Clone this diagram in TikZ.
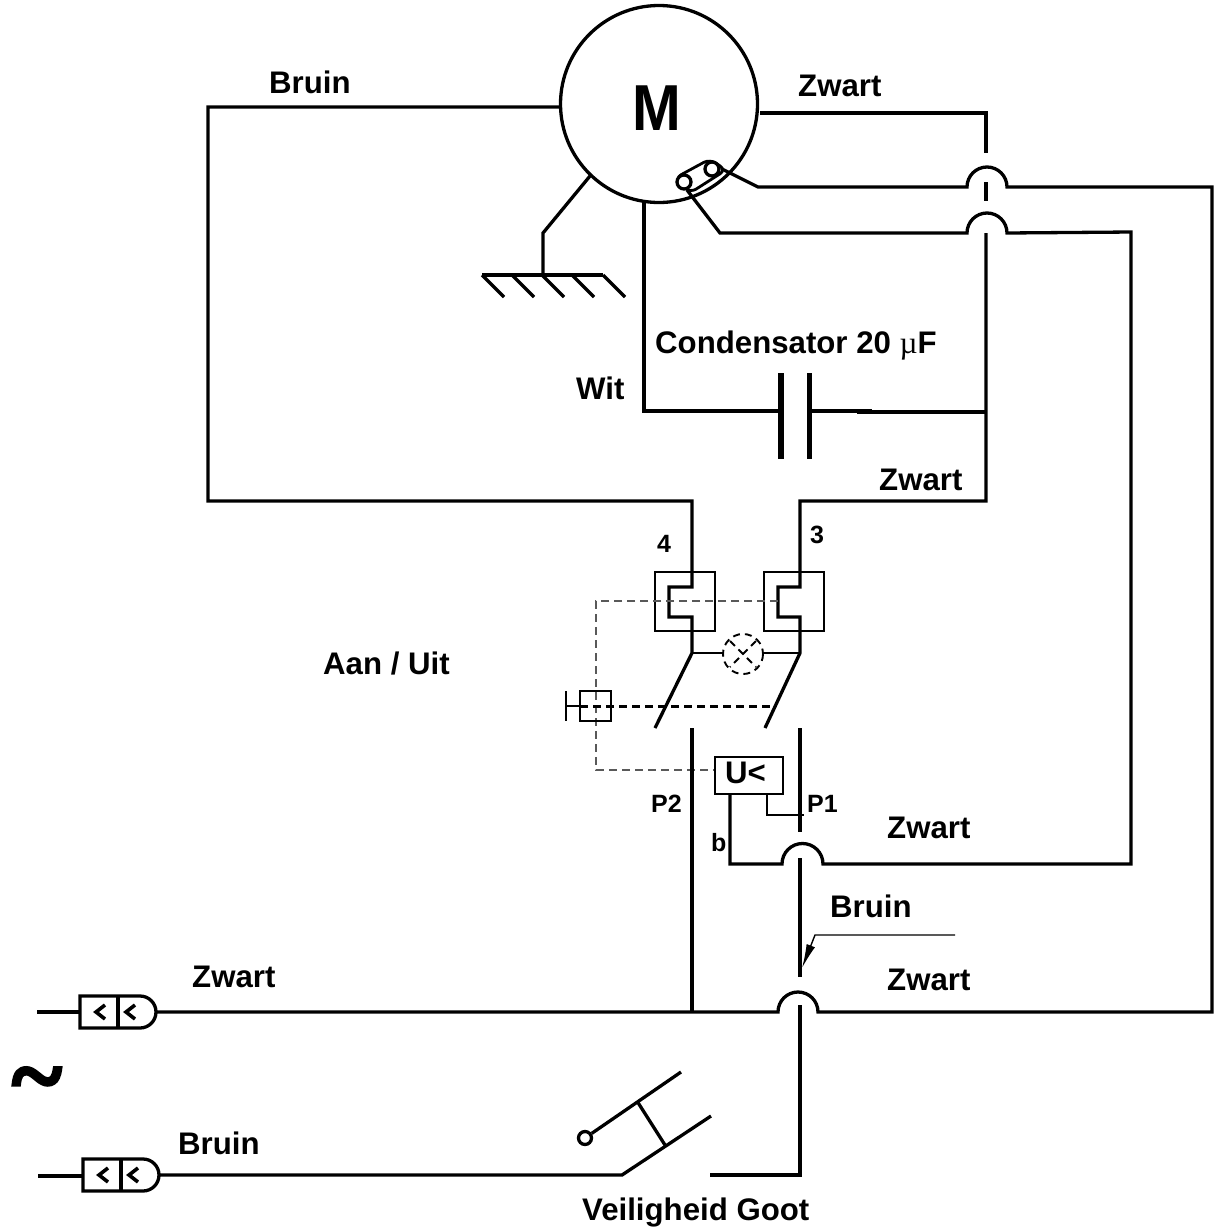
\documentclass[tikz,border=0pt]{standalone}
\usepackage{fontspec}
\setmainfont{Liberation Sans}
\newfontfamily\serifbold{Liberation Serif}
\newfontfamily\tildefont[FakeBold=5]{Liberation Serif}
\usetikzlibrary{arrows.meta}
\tikzset{
  wire/.style={line width=3.3pt,line join=miter},
  thinwire/.style={line width=2pt},
  thick box/.style={draw,line width=2.4pt},
  ctl/.style={draw=black!65,line width=1.5pt,dash pattern=on 8pt off 5pt},
  ctlthick/.style={draw,line width=3pt,dash pattern=on 8pt off 5pt},
  lbl/.style={font=\bfseries\fontsize{31.2}{31}\selectfont,inner sep=0pt,anchor=base west},
  sml/.style={font=\bfseries\fontsize{25}{25}\selectfont,inner sep=0pt,anchor=base west},
  term/.style={circle,draw,line width=3.3pt,fill=white,minimum size=14pt,inner sep=0pt},
  chev/.style={line width=3.6pt},
}
\begin{document}
\begin{tikzpicture}[x=1pt,y=-1pt]
\useasboundingbox (0,0) rectangle (1221,1232);
% motor
\node[circle,draw,line width=3.3pt,minimum size=197pt,inner sep=0pt] (M) at (659,104) {};
\node[font=\bfseries\fontsize{65}{65}\selectfont,inner sep=0pt] at (657,108) {\scalebox{.9}[1]{M}};
% named points
\coordinate (bl) at (208,107);
\coordinate (bb) at (208,501);
\coordinate (s4t) at (692,501);
\coordinate (s3t) at (800,501);
\coordinate (cr) at (986,501);
% brown from motor to switch 4
\draw[wire] (561,107) -- (bl) -- (bb) -- (s4t) -- (692,587) -- (669,587) -- (669,617) -- (692,617) -- (692,653) -- (655,728);
% black to switch 3
\draw[wire] (986,233) -- (cr) -- (s3t) -- (800,587) -- (778,587) -- (778,617) -- (800,617) -- (800,653) -- (765,728);
% top right black
\draw[wire] (760,113) -- (986,113) -- (986,153);
\draw[wire] (986,182) -- (986,201);
% terminal wires with jumps
\draw[wire] (720,168) -- (758,187) -- (967,187) arc[start angle=180,end angle=360,radius=20] -- (1212,187) -- (1212,1012) -- (818,1012) arc[start angle=0,end angle=-180,radius=20] -- (157,1012);
\draw[wire] (687,190) -- (720,233) -- (967,233) arc[start angle=180,end angle=360,radius=20] -- (1131,232) -- (1131,864) -- (823,864) arc[start angle=0,end angle=-180,radius=20.5] -- (730,864) -- (730,793);
% terminal
\draw[line width=2.8pt,rounded corners=7pt,fill=white] (675,178) -- (710,159) -- (726,170) -- (690,193) -- cycle;
\node[term] (t1) at (684,182) {};
\node[term] (t2) at (712,169) {};
% earth
\draw[wire] (590,176) -- (543,233) -- (543,275);
\draw[wire] (482,275) -- (603,275);
\foreach \x in {482,512,542,572,603} \draw[wire] (\x,275) -- (\x+22,297);
% capacitor
\draw[wire] (644,200) -- (644,411) -- (781,411);
\draw[wire] (809,411) -- (872,411);
\draw[wire] (857,412) -- (986,412);
\draw[line width=6pt] (781,373) -- (781,459);
\draw[line width=5pt] (809,373) -- (809,459);
% switch boxes
\draw[thick box] (655,572) rectangle (715,631);
\draw[thick box] (764,572) rectangle (824,631);
% lamp
\draw[thinwire] (692,653) -- (723,653);
\draw[thinwire] (764,653) -- (800,653);
\draw[line width=1.9pt,dash pattern=on 7pt off 5pt] (743,654) circle (20);
\draw[line width=1.9pt,dash pattern=on 7pt off 5pt] (730,641) -- (756,667) (756,641) -- (730,667);
% control lines
\draw[ctl] (778,601) -- (596,601) -- (596,770) -- (714,770);
\draw[thick box,line width=2pt] (580,691) rectangle (611,721);
\draw[line width=2.4pt] (566,691) -- (566,721);
\draw[line width=2pt] (566,706) -- (580,706);
\draw[ctlthick] (580,706) -- (772,706);
% lower contacts
\draw[wire] (692,728) -- (692,1012);
\draw[wire] (800,728) -- (800,832);
\draw[wire] (800,858) -- (800,977);
\draw[wire] (800,1005) -- (800,1175) -- (710,1175);
% undervoltage
\node[thick box,minimum width=68pt,minimum height=37pt,inner sep=0pt,anchor=north west,fill=white] (U) at (714,756) {};
\node[lbl] at (725,783) {U<};
\draw[thinwire] (767,793) -- (767,815) -- (804,815);
% arrow
\draw[line width=1.4pt,-{Latex[length=24pt,width=9pt]}] (955,935) -- (815,935) -- (802,968);
% safety switch
\draw[wire] (159,1175) -- (622,1175) -- (711,1116);
\node[circle,draw,line width=3.3pt,minimum size=13pt,inner sep=0pt] (o) at (585,1138) {};
\draw[wire] (o) -- (681,1072);
\draw[wire] (637,1101) -- (665,1145);
% plugs
\foreach \px/\py in {80/1012,83/1175}{
 \draw[wire] (\px,\py-16) -- (\px+60,\py-16) arc[start angle=-90,end angle=90,radius=16] -- (\px,\py+16) -- cycle;
 \draw[wire] (\px+38,\py-16) -- (\px+38,\py+16);
 \draw[chev] (\px+25,\py-7) -- (\px+16,\py) -- (\px+25,\py+7);
 \draw[chev] (\px+55,\py-7) -- (\px+46,\py) -- (\px+55,\py+7);
}
\draw[wire] (37,1012) -- (80,1012);
\draw[wire] (38,1176) -- (83,1176);
% texts
\node[lbl] at (269,93) {Bruin};
\node[lbl] at (798,96) {Zwart};
\node[lbl] at (655,353) {Condensator 20 {\serifbold\mdseries µ}F};
\node[lbl] at (576,399) {Wit};
\node[lbl] at (879,490) {Zwart};
\node[sml] at (657,552) {4};
\node[sml] at (810,543) {3};
\node[lbl] at (323,674) {Aan / Uit};
\node[sml] at (651,812) {P2};
\node[sml] at (807,812) {P1};
\node[sml] at (711,851) {b};
\node[lbl] at (887,838) {Zwart};
\node[lbl] at (830,917) {Bruin};
\node[lbl] at (887,990) {Zwart};
\node[lbl] at (192,987) {Zwart};
\node[lbl] at (178,1154) {Bruin};
\node[lbl] at (582,1220) {Veiligheid Goot};
\node[font=\tildefont\fontsize{95}{95}\selectfont,inner sep=0pt] at (37,1088) {\~{}};
\end{tikzpicture}
\end{document}
